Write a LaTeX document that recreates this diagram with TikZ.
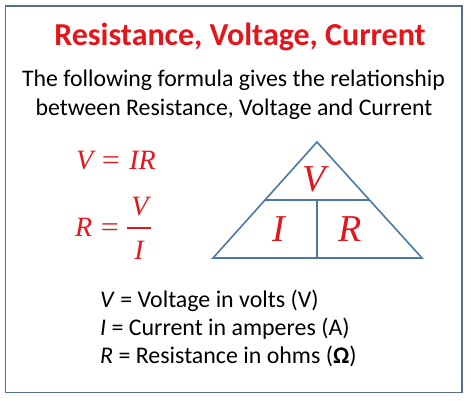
\documentclass[tikz,border=0pt]{standalone}
\usepackage{fontspec}
\setmainfont{Carlito}
\newfontfamily\tms{Liberation Serif}
\definecolor{titlered}{HTML}{E3161C}
\definecolor{mathred}{HTML}{E3161C}
\definecolor{tribl}{HTML}{4A78A8}
\definecolor{framec}{HTML}{557085}
\tikzset{
  body/.style={inner sep=0pt, anchor=base, font=\fontsize{23.8}{28}\selectfont},
  eq/.style={inner sep=0pt, anchor=base, text=mathred, font=\tms\itshape\fontsize{28}{30}\selectfont},
  eqs/.style={inner sep=0pt, anchor=base, text=mathred, font=\tms\fontsize{28}{30}\selectfont},
  tri/.style={inner sep=0pt, anchor=base, text=mathred, font=\tms\itshape\fontsize{38}{40}\selectfont},
  trl/.style={draw=tribl, line width=1.6pt},
  defn/.style={inner sep=0pt, anchor=base west, font=\fontsize{23.9}{28}\selectfont},
}
\begin{document}
\begin{tikzpicture}[x=1pt,y=-1pt]
\useasboundingbox (0,0) rectangle (471,400);
\draw[draw=framec, line width=1.3pt] (5.5,6) rectangle (462,392.5);
% title
\node[inner sep=0pt, anchor=base, text=titlered, font=\bfseries\fontsize{32}{36}\selectfont] (title) at (240,45) {Resistance, Voltage, Current};
\node[body] (sub1) at (233.5,86) {The following formula gives the relationship};
\node[body] (sub2) at (234,115) {between Resistance, Voltage and Current};
% equations
\node[eq, anchor=base west] (e1v) at (76,169) {V};
\node[eqs] (e1eq) at (111,169) {\scalebox{1.15}[1]{=}};
\node[eq, anchor=base east] (e1ir) at (156,169) {IR};
\node[eq, anchor=base west] (e2r) at (75,236) {R};
\node[eqs] (e2eq) at (110,236) {\scalebox{1.15}[1]{=}};
\node[eq] (num) at (140,215) {V};
\node[eq] (den) at (139,259) {I};
\draw[draw=mathred, line width=1.3pt] (127,228) -- (151,228);
% triangle
\coordinate (apex) at (317,142);
\coordinate (bl) at (213,258);
\coordinate (br) at (422,258);
\coordinate (ml) at (265,200);
\coordinate (mr) at (369,200);
\coordinate (mb) at (317,258);
\coordinate (mm) at (317,200);
\draw[trl, line join=miter] (apex) -- (br) -- (bl) -- cycle;
\draw[trl] (ml) -- (mr);
\draw[trl] (mm) -- (mb);
\node[tri] (tv) at (314,191) {V};
\node[tri] (ti) at (279,241) {I};
\node[tri] (tr) at (350,241) {R};
% definitions
\node[defn] (d1) at (100,307) {\textit{V} = Voltage in volts (V)};
\node[defn] (d2) at (100,335) {\textit{I} = Current in amperes (A)};
\node[defn] (d3) at (100,363) {\textit{R} = Resistance in ohms (\textbf{Ω})};
\end{tikzpicture}
\end{document}
